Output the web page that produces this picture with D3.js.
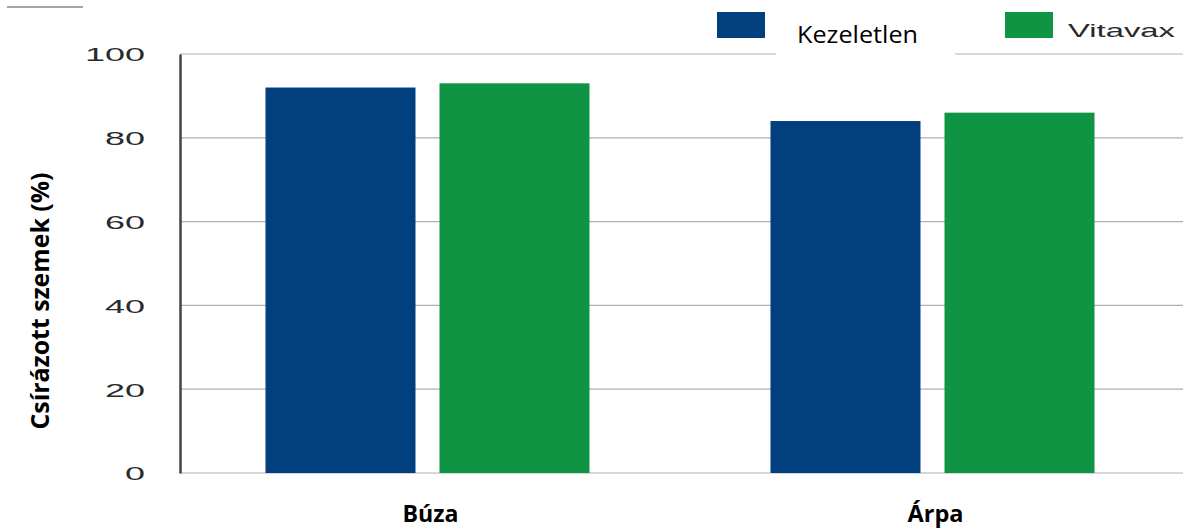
<!DOCTYPE html>
<html>
<head>
<meta charset="utf-8">
<script src="https://cdn.jsdelivr.net/npm/d3@7"></script>
<style>
  body { margin: 0; background: #fff; }
  svg { display: block; }
</style>
</head>
<body>
<svg></svg>
<script>
var width = 1189;
var height = 529;

var categories = ["Búza", "Árpa"];
var seriesNames = ["Kezeletlen", "Vitavax"];
var kezeletlen = [92, 84];
var vitavax = [93, 86];
var yTicks = [0, 20, 40, 60, 80, 100];
var colors = ["#013f7e", "#0e9443"];

var rows = categories.map((c, i) => ({ cat: c, values: [kezeletlen[i], vitavax[i]] }));

var svg = d3.select("svg")
            .attr("width", width)
            .attr("height", height);

var x0 = d3.scaleBand()
           .domain(categories)
           .range([175, 1185])
           .padding(0);

var groupWidth = 324;

var x1 = d3.scaleBand()
           .domain(seriesNames)
           .range([0, groupWidth])
           .paddingInner(0.138)
           .paddingOuter(0);

var y = d3.scaleLinear()
          .domain([0, 100])
          .range([473, 54]);

// small line top-left
svg.append("line")
   .attr("x1", 7).attr("x2", 83)
   .attr("y1", 7).attr("y2", 7)
   .attr("stroke", "#888")
   .attr("stroke-width", 1.5);

// gridlines
svg.append("g")
   .selectAll("line")
   .data(yTicks)
   .enter()
   .append("line")
   .attr("x1", 180)
   .attr("x2", 1183)
   .attr("y1", d => y(d))
   .attr("y2", d => y(d))
   .attr("stroke", "#b0b0b0")
   .attr("stroke-width", 1.2);

// y axis
var yAxis = svg.append("g")
   .attr("transform", "translate(180,0)")
   .call(d3.axisLeft(y).tickValues(yTicks).tickSize(0).tickPadding(0));

yAxis.select(".domain")
   .attr("stroke", "#444")
   .attr("stroke-width", 2.5);

yAxis.selectAll("text")
   .attr("font-family", "Liberation Sans, Arial, sans-serif")
   .attr("font-size", 19)
   .attr("fill", "#2a2a2a")
   .attr("x", -35)
   .attr("dy", "0.36em")
   .attr("textLength", d => String(d).length * 20)
   .attr("lengthAdjust", "spacingAndGlyphs");

// bars
var groups = svg.append("g")
   .selectAll("g")
   .data(rows)
   .enter()
   .append("g")
   .attr("transform", d => "translate(" + (x0(d.cat) + x0.bandwidth() / 2 - groupWidth / 2) + ",0)");

groups.selectAll("rect")
   .data(d => d.values.map((v, i) => ({ key: seriesNames[i], value: v, idx: i })))
   .enter()
   .append("rect")
   .attr("x", d => x1(d.key))
   .attr("y", d => y(d.value))
   .attr("width", x1.bandwidth())
   .attr("height", d => y(0) - y(d.value))
   .attr("fill", d => colors[d.idx]);

// category labels
svg.append("g")
   .selectAll("text")
   .data(categories)
   .enter()
   .append("text")
   .attr("x", d => x0(d) + x0.bandwidth() / 2 + 3)
   .attr("y", 522)
   .attr("text-anchor", "middle")
   .attr("font-family", "Open Sans, sans-serif")
   .attr("font-weight", "bold")
   .attr("font-size", 24)
   .attr("fill", "#000")
   .attr("textLength", 56)
   .attr("lengthAdjust", "spacingAndGlyphs")
   .text(d => d);

// y title
svg.append("text")
   .attr("transform", "rotate(-90)")
   .attr("x", -301)
   .attr("y", 49)
   .attr("text-anchor", "middle")
   .attr("font-family", "Open Sans, sans-serif")
   .attr("font-weight", "bold")
   .attr("font-size", 25)
   .attr("fill", "#000")
   .attr("textLength", 257)
   .attr("lengthAdjust", "spacingAndGlyphs")
   .text("Csírázott szemek (%)");

// legend
var legendX = [717, 1005];

svg.append("rect")
   .attr("x", 776).attr("y", 8)
   .attr("width", 179).attr("height", 52)
   .attr("fill", "#fff");

svg.append("g")
   .selectAll("rect")
   .data(seriesNames)
   .enter()
   .append("rect")
   .attr("x", (d, i) => legendX[i])
   .attr("y", 12)
   .attr("width", 48)
   .attr("height", 26)
   .attr("fill", (d, i) => colors[i]);

svg.append("text")
   .attr("x", 797)
   .attr("y", 43)
   .attr("font-family", "Open Sans, sans-serif")
   .attr("font-size", 24)
   .attr("fill", "#000")
   .attr("textLength", 121)
   .attr("lengthAdjust", "spacingAndGlyphs")
   .text(seriesNames[0]);

svg.append("text")
   .attr("x", 1068)
   .attr("y", 37)
   .attr("font-family", "Liberation Sans, Arial, sans-serif")
   .attr("font-size", 19)
   .attr("fill", "#2a2a2a")
   .attr("textLength", 107)
   .attr("lengthAdjust", "spacingAndGlyphs")
   .text(seriesNames[1]);
</script>
</body>
</html>
